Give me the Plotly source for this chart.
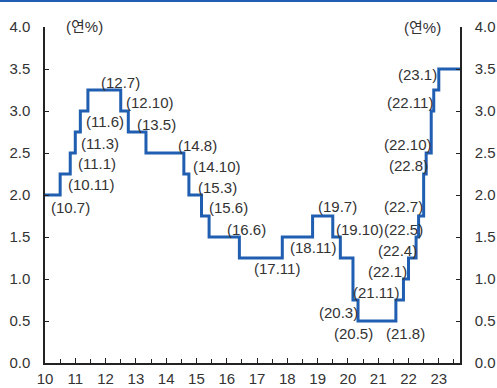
import plotly.graph_objects as go

# Bank of Korea base rate changes (yy.m) and new rate (%)
change_dates = ["10.7", "10.11", "11.1", "11.3", "11.6", "12.7", "12.10", "13.5",
                "14.8", "14.10", "15.3", "15.6", "16.6", "17.11", "18.11", "19.7",
                "19.10", "20.3", "20.5", "21.8", "21.11", "22.1", "22.4", "22.5",
                "22.7", "22.8", "22.10", "22.11", "23.1"]
new_rates = [2.25, 2.5, 2.75, 3.0, 3.25, 3.0, 2.75, 2.5,
             2.25, 2.0, 1.75, 1.5, 1.25, 1.5, 1.75, 1.5,
             1.25, 0.75, 0.5, 0.75, 1.0, 1.25, 1.5, 1.75,
             2.25, 2.5, 3.0, 3.25, 3.5]
start_rate = 2.0
start_year = 2010.0
end_year = 2023.7
x_tick_vals = list(range(2010, 2024))
x_tick_text = [str(v % 100) for v in x_tick_vals]
y_tick_vals = [0, 0.5, 1.0, 1.5, 2.0, 2.5, 3.0, 3.5, 4.0]
y_tick_text = ["0.0", "0.5", "1.0", "1.5", "2.0", "2.5", "3.0", "3.5", "4.0"]

# label offsets in pixels (dx right, dy down) from each step point
label_offsets = [(10, 33), (21, 31), (22, 31), (20, 32), (17, 31), (0, -29), (22, -30), (11, -29),
                 (14, -29), (28, -29), (16, -29), (19, -30), (7, -29), (-5, 31), (0, 31), (5, -31),
                 (20, -29), (-14, 12), (-5, 12), (10, 33), (-27, 13), (-21, 13), (-19, 13), (-15, 13),
                 (-20, 32), (-18, 12), (-23, 33), (-24, 12), (-21, 5)]


def to_year(s):
    y, m = s.split(".")
    return 2000 + int(y) + (int(m) - 1) / 12.0


xs = [start_year] + [to_year(d) for d in change_dates] + [end_year]
ys = [start_rate] + new_rates + [new_rates[-1]]

LINE = "#1f5eb0"
TXT = "#333333"
AX = "#222222"
FONT = "Liberation Sans, Arial, Noto Sans CJK KR, sans-serif"

fig = go.Figure()
fig.add_trace(go.Scatter(x=xs, y=ys, mode="lines", line=dict(color=LINE, width=3, shape="hv"),
                         hoverinfo="skip", showlegend=False))
fig.add_trace(go.Scatter(x=[start_year], y=[0], yaxis="y2", mode="markers",
                         marker=dict(opacity=0), hoverinfo="skip", showlegend=False))

ann = []
for d, r, (dx, dy) in zip(change_dates, new_rates, label_offsets):
    ann.append(dict(x=to_year(d), y=r, xref="x", yref="y", text="(" + d + ")", showarrow=False,
                    xshift=dx, yshift=-dy, font=dict(size=15, color=TXT, family=FONT),
                    xanchor="center", yanchor="middle"))
ann.append(dict(x=0, y=1, xref="paper", yref="paper", text="(연%)", showarrow=False,
                xshift=19, yshift=11, font=dict(size=15, color=TXT, family=FONT)))
ann.append(dict(x=1, y=1, xref="paper", yref="paper", text="(연%)", showarrow=False,
                xshift=-17, yshift=10, font=dict(size=15, color=TXT, family=FONT)))

axis_common = dict(showgrid=False, zeroline=False, showline=True, linecolor=AX, linewidth=1.5,
                   ticks="inside", tickcolor=AX, automargin=False,
                   tickfont=dict(size=15, color=TXT, family=FONT))

fig.update_layout(
    width=497, height=388,
    margin=dict(l=45, r=37, t=27, b=25),
    paper_bgcolor="white", plot_bgcolor="white",
    xaxis=dict(range=[start_year, end_year], tickvals=x_tick_vals, ticktext=x_tick_text,
               ticklen=5, ticklabelstandoff=1,
               minor=dict(dtick=0.5, tick0=2010, ticks="inside", ticklen=4, tickcolor=AX),
               mirror=False, **axis_common),
    yaxis=dict(range=[0, 4], tickvals=y_tick_vals, ticktext=y_tick_text, ticklen=4,
               ticklabelstandoff=10, **axis_common),
    yaxis2=dict(range=[0, 4], overlaying="y", side="right", tickvals=y_tick_vals,
                ticktext=y_tick_text, ticklen=4, ticklabelstandoff=10, **axis_common),
    annotations=ann,
    shapes=[dict(type="line", xref="paper", yref="paper", x0=-45 / 415, x1=452 / 415,
                 y0=362 / 336, y1=362 / 336, line=dict(color=LINE, width=2))],
)

fig.write_html("out.html")
